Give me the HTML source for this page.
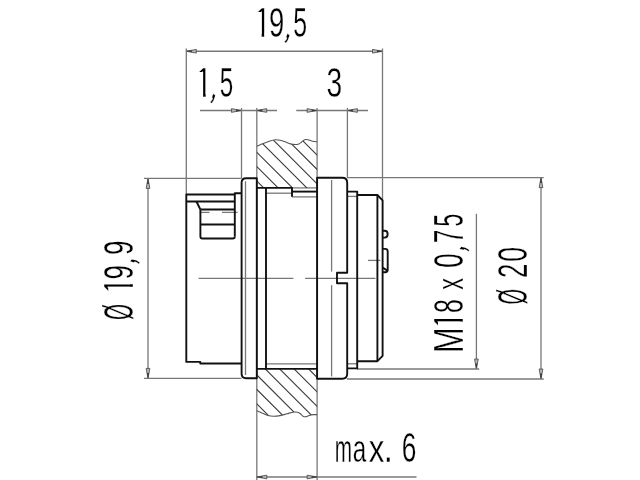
<!DOCTYPE html>
<html><head><meta charset="utf-8"><style>
html,body{margin:0;padding:0;background:#fff;width:640px;height:480px;overflow:hidden}
svg{display:block;will-change:transform}
text{font-family:"Liberation Sans",sans-serif}
</style></head><body>
<svg width="640" height="480" viewBox="0 0 640 480">
<rect width="640" height="480" fill="#fff"/>
<line x1="186.3" y1="51.25" x2="382.5" y2="51.25" stroke="#787878" stroke-width="1.3" fill="none"/>
<path d="M186.3,51.25 L196.30,49.40 L196.30,53.10 Z" fill="#b8b8b8" stroke="#4a4a4a" stroke-width="0.85" stroke-linejoin="round"/>
<path d="M186.3,51.25 L191.80,50.23 L191.80,52.27 Z" fill="#3a3a3a"/>
<path d="M382.5,51.25 L372.50,53.10 L372.50,49.40 Z" fill="#b8b8b8" stroke="#4a4a4a" stroke-width="0.85" stroke-linejoin="round"/>
<path d="M382.5,51.25 L377.00,52.27 L377.00,50.23 Z" fill="#3a3a3a"/>
<line x1="186.3" y1="48.5" x2="186.3" y2="194" stroke="#787878" stroke-width="1.3" fill="none"/>
<line x1="382.5" y1="48.5" x2="382.5" y2="200.4" stroke="#787878" stroke-width="1.3" fill="none"/>
<line x1="200" y1="110.5" x2="277" y2="110.5" stroke="#787878" stroke-width="1.3" fill="none"/>
<path d="M241.5,110.5 L231.50,112.35 L231.50,108.65 Z" fill="#b8b8b8" stroke="#4a4a4a" stroke-width="0.85" stroke-linejoin="round"/>
<path d="M241.5,110.5 L236.00,111.52 L236.00,109.48 Z" fill="#3a3a3a"/>
<path d="M256.7,110.5 L266.70,108.65 L266.70,112.35 Z" fill="#b8b8b8" stroke="#4a4a4a" stroke-width="0.85" stroke-linejoin="round"/>
<path d="M256.7,110.5 L262.20,109.48 L262.20,111.52 Z" fill="#3a3a3a"/>
<line x1="241.5" y1="108" x2="241.5" y2="178.3" stroke="#787878" stroke-width="1.3" fill="none"/>
<line x1="256.8" y1="108" x2="256.8" y2="480" stroke="#787878" stroke-width="1.3" fill="none"/>
<line x1="296.3" y1="110.5" x2="368" y2="110.5" stroke="#787878" stroke-width="1.3" fill="none"/>
<path d="M317.1,110.5 L307.10,112.35 L307.10,108.65 Z" fill="#b8b8b8" stroke="#4a4a4a" stroke-width="0.85" stroke-linejoin="round"/>
<path d="M317.1,110.5 L311.60,111.52 L311.60,109.48 Z" fill="#3a3a3a"/>
<path d="M347.4,110.5 L357.40,108.65 L357.40,112.35 Z" fill="#b8b8b8" stroke="#4a4a4a" stroke-width="0.85" stroke-linejoin="round"/>
<path d="M347.4,110.5 L352.90,109.48 L352.90,111.52 Z" fill="#3a3a3a"/>
<line x1="317.1" y1="108" x2="317.1" y2="480" stroke="#787878" stroke-width="1.3" fill="none"/>
<line x1="347.4" y1="108" x2="347.4" y2="177.6" stroke="#787878" stroke-width="1.3" fill="none"/>
<line x1="148" y1="178.4" x2="148" y2="378.4" stroke="#787878" stroke-width="1.3" fill="none"/>
<path d="M148,178.4 L149.85,188.40 L146.15,188.40 Z" fill="#b8b8b8" stroke="#4a4a4a" stroke-width="0.85" stroke-linejoin="round"/>
<path d="M148,178.4 L149.02,183.90 L146.98,183.90 Z" fill="#3a3a3a"/>
<path d="M148,378.4 L146.15,368.40 L149.85,368.40 Z" fill="#b8b8b8" stroke="#4a4a4a" stroke-width="0.85" stroke-linejoin="round"/>
<path d="M148,378.4 L146.98,372.90 L149.02,372.90 Z" fill="#3a3a3a"/>
<line x1="144" y1="178.4" x2="241.5" y2="178.4" stroke="#787878" stroke-width="1.3" fill="none"/>
<line x1="144" y1="378.4" x2="241.5" y2="378.4" stroke="#787878" stroke-width="1.3" fill="none"/>
<line x1="541" y1="177.6" x2="541" y2="379.0" stroke="#787878" stroke-width="1.3" fill="none"/>
<path d="M541,177.6 L542.85,187.60 L539.15,187.60 Z" fill="#b8b8b8" stroke="#4a4a4a" stroke-width="0.85" stroke-linejoin="round"/>
<path d="M541,177.6 L542.02,183.10 L539.98,183.10 Z" fill="#3a3a3a"/>
<path d="M541,379.0 L539.15,369.00 L542.85,369.00 Z" fill="#b8b8b8" stroke="#4a4a4a" stroke-width="0.85" stroke-linejoin="round"/>
<path d="M541,379.0 L539.98,373.50 L542.02,373.50 Z" fill="#3a3a3a"/>
<line x1="347" y1="177.6" x2="543.7" y2="177.6" stroke="#787878" stroke-width="1.3" fill="none"/>
<line x1="347" y1="379.0" x2="543.7" y2="379.0" stroke="#787878" stroke-width="1.3" fill="none"/>
<line x1="476.4" y1="213.8" x2="476.4" y2="369.0" stroke="#787878" stroke-width="1.3" fill="none"/>
<path d="M476.4,369.0 L474.55,359.00 L478.25,359.00 Z" fill="#b8b8b8" stroke="#4a4a4a" stroke-width="0.85" stroke-linejoin="round"/>
<path d="M476.4,369.0 L475.38,363.50 L477.42,363.50 Z" fill="#3a3a3a"/>
<line x1="357" y1="369.0" x2="479.2" y2="369.0" stroke="#787878" stroke-width="1.3" fill="none"/>
<line x1="256.8" y1="477" x2="416.5" y2="477" stroke="#787878" stroke-width="1.3" fill="none"/>
<path d="M256.8,477 L266.80,475.15 L266.80,478.85 Z" fill="#b8b8b8" stroke="#4a4a4a" stroke-width="0.85" stroke-linejoin="round"/>
<path d="M256.8,477 L262.30,475.98 L262.30,478.02 Z" fill="#3a3a3a"/>
<path d="M317.1,477 L307.10,478.85 L307.10,475.15 Z" fill="#b8b8b8" stroke="#4a4a4a" stroke-width="0.85" stroke-linejoin="round"/>
<path d="M317.1,477 L311.60,478.02 L311.60,475.98 Z" fill="#3a3a3a"/>
<line x1="198.6" y1="278.4" x2="293.4" y2="278.4" stroke="#787878" stroke-width="1.3" fill="none"/>
<line x1="305.1" y1="278.4" x2="375.5" y2="278.4" stroke="#787878" stroke-width="1.3" fill="none"/>
<line x1="368" y1="260.4" x2="380.4" y2="260.4" stroke="#787878" stroke-width="1.3" fill="none"/>
<line x1="245.5" y1="181.3" x2="245.5" y2="375" stroke="#787878" stroke-width="1.3" fill="none"/>
<line x1="331.6" y1="180" x2="331.6" y2="271.6" stroke="#787878" stroke-width="1.3" fill="none"/>
<line x1="331.6" y1="285.1" x2="331.6" y2="376.5" stroke="#787878" stroke-width="1.3" fill="none"/>
<line x1="266" y1="193.2" x2="292" y2="193.2" stroke="#787878" stroke-width="1.3" fill="none"/>
<line x1="292" y1="196.9" x2="317.1" y2="196.9" stroke="#787878" stroke-width="1.3" fill="none"/>
<line x1="292" y1="187.9" x2="317.1" y2="187.9" stroke="#787878" stroke-width="1.3" fill="none"/>
<line x1="347.2" y1="196.4" x2="357.2" y2="196.4" stroke="#787878" stroke-width="1.3" fill="none"/>
<line x1="266" y1="363.8" x2="317.1" y2="363.8" stroke="#787878" stroke-width="1.3" fill="none"/>
<line x1="347.2" y1="363.8" x2="357.2" y2="363.8" stroke="#787878" stroke-width="1.3" fill="none"/>
<line x1="199.7" y1="212.4" x2="209.5" y2="212.4" stroke="#787878" stroke-width="1.3" fill="none"/>
<line x1="222" y1="212.4" x2="237.6" y2="212.4" stroke="#787878" stroke-width="1.3" fill="none"/>
<defs><clipPath id="ct"><path d="M256.8,146.2 C257.87,145.75 261.00,144.37 263.2,143.5 C265.40,142.63 267.95,141.62 270,141 C272.05,140.38 273.83,139.93 275.5,139.8 C277.17,139.67 278.42,139.88 280,140.2 C281.58,140.52 283.25,141.08 285,141.7 C286.75,142.32 288.75,143.43 290.5,143.9 C292.25,144.37 294.12,144.50 295.5,144.5 C296.88,144.50 297.80,144.28 298.8,143.9 C299.80,143.52 300.67,142.82 301.5,142.2 C302.33,141.58 303.08,140.65 303.8,140.2 C304.52,139.75 305.07,139.57 305.8,139.5 C306.53,139.43 307.33,139.58 308.2,139.8 C309.07,140.02 310.03,140.52 311,140.8 C311.97,141.08 312.98,141.35 314,141.5 C315.02,141.65 316.58,141.67 317.1,141.7 L317.1,187.9 L256.8,187.9 Z"/></clipPath>
<clipPath id="cb"><path d="M256.8,410.8 C257.75,411.20 260.63,412.42 262.5,413.2 C264.37,413.98 266.17,415.00 268,415.5 C269.83,416.00 271.50,416.18 273.5,416.2 C275.50,416.22 277.75,416.00 280,415.6 C282.25,415.20 284.83,414.37 287,413.8 C289.17,413.23 291.25,412.45 293,412.2 C294.75,411.95 296.25,412.03 297.5,412.3 C298.75,412.57 299.58,413.15 300.5,413.8 C301.42,414.45 302.17,415.70 303,416.2 C303.83,416.70 304.67,416.82 305.5,416.8 C306.33,416.78 307.08,416.42 308,416.1 C308.92,415.78 310.00,415.15 311,414.9 C312.00,414.65 312.98,414.65 314,414.6 C315.02,414.55 316.58,414.60 317.1,414.6 L317.1,368.9 L256.8,368.9 Z"/></clipPath></defs>
<path clip-path="url(#ct)" d="M175.84,100 L295.84000000000003,220 M190.2,100 L310.2,220 M204.56,100 L324.56,220 M218.92000000000002,100 L338.92,220 M233.28,100 L353.28,220 M247.64,100 L367.64,220 M262.0,100 L382.0,220 M276.36,100 L396.36,220" stroke="#3a3a3a" stroke-width="1.1" fill="none"/>
<path clip-path="url(#cb)" d="M188.5,350 L278.5,440 M202.95000000000002,350 L292.95000000000005,440 M217.4,350 L307.4,440 M231.85000000000002,350 L321.85,440 M246.3,350 L336.3,440 M260.75,350 L350.75,440 M275.2,350 L365.2,440 M289.65,350 L379.65,440 M304.1,350 L394.1,440" stroke="#3a3a3a" stroke-width="1.1" fill="none"/>
<path d="M256.8,146.2 C257.87,145.75 261.00,144.37 263.2,143.5 C265.40,142.63 267.95,141.62 270,141 C272.05,140.38 273.83,139.93 275.5,139.8 C277.17,139.67 278.42,139.88 280,140.2 C281.58,140.52 283.25,141.08 285,141.7 C286.75,142.32 288.75,143.43 290.5,143.9 C292.25,144.37 294.12,144.50 295.5,144.5 C296.88,144.50 297.80,144.28 298.8,143.9 C299.80,143.52 300.67,142.82 301.5,142.2 C302.33,141.58 303.08,140.65 303.8,140.2 C304.52,139.75 305.07,139.57 305.8,139.5 C306.53,139.43 307.33,139.58 308.2,139.8 C309.07,140.02 310.03,140.52 311,140.8 C311.97,141.08 312.98,141.35 314,141.5 C315.02,141.65 316.58,141.67 317.1,141.7" stroke="#555" stroke-width="1.1" fill="none"/>
<path d="M256.8,410.8 C257.75,411.20 260.63,412.42 262.5,413.2 C264.37,413.98 266.17,415.00 268,415.5 C269.83,416.00 271.50,416.18 273.5,416.2 C275.50,416.22 277.75,416.00 280,415.6 C282.25,415.20 284.83,414.37 287,413.8 C289.17,413.23 291.25,412.45 293,412.2 C294.75,411.95 296.25,412.03 297.5,412.3 C298.75,412.57 299.58,413.15 300.5,413.8 C301.42,414.45 302.17,415.70 303,416.2 C303.83,416.70 304.67,416.82 305.5,416.8 C306.33,416.78 307.08,416.42 308,416.1 C308.92,415.78 310.00,415.15 311,414.9 C312.00,414.65 312.98,414.65 314,414.6 C315.02,414.55 316.58,414.60 317.1,414.6" stroke="#555" stroke-width="1.1" fill="none"/>
<path d="M234.7,194.5 H186.3 V361.9 H200.3 V363.5 H241.6" stroke="#111" stroke-width="1.9" fill="none" stroke-linejoin="round" stroke-linecap="butt"/>
<path d="M234.8,236.5 V193.2 H241.6" stroke="#111" stroke-width="1.9" fill="none" stroke-linejoin="round" stroke-linecap="butt"/>
<path d="M186.3,201.55 H234.7" stroke="#111" stroke-width="1.9" fill="none" stroke-linejoin="round" stroke-linecap="butt"/>
<path d="M196.4,201.55 L200.4,209.5" stroke="#111" stroke-width="1.9" fill="none" stroke-linejoin="round" stroke-linecap="butt"/>
<path d="M200.4,209.5 V236.5 Q200.4,238.5 202.4,238.5 H232.7 Q234.8,238.5 234.8,236.5" stroke="#111" stroke-width="1.9" fill="none" stroke-linejoin="round" stroke-linecap="butt"/>
<path d="M200.4,209.5 H234.7" stroke="#111" stroke-width="1.9" fill="none" stroke-linejoin="round" stroke-linecap="butt"/>
<path d="M200.4,224.5 H234.7" stroke="#111" stroke-width="1.9" fill="none" stroke-linejoin="round" stroke-linecap="butt"/>
<path d="M256.8,178.3 H246.1 Q241.6,178.3 241.6,182.8 V373.7 Q241.6,378.2 246.1,378.2 H256.8 Z" stroke="#111" stroke-width="1.9" fill="none" stroke-linejoin="round" stroke-linecap="butt"/>
<path d="M256.8,187.9 H292 V196.8" stroke="#111" stroke-width="1.9" fill="none" stroke-linejoin="round" stroke-linecap="butt"/>
<path d="M292,191.6 H317.1" stroke="#111" stroke-width="1.9" fill="none" stroke-linejoin="round" stroke-linecap="butt"/>
<path d="M266,187.9 V368.9" stroke="#111" stroke-width="1.9" fill="none" stroke-linejoin="round" stroke-linecap="butt"/>
<path d="M256.8,368.9 H317.1" stroke="#111" stroke-width="1.9" fill="none" stroke-linejoin="round" stroke-linecap="butt"/>
<path d="M317.1,177.8 H342.2 Q347.2,177.8 347.2,182.8 V272.8 H337 V283.3 H347.2 V373.7 Q347.2,378.7 342.2,378.7 H317.1 Z" stroke="#111" stroke-width="1.9" fill="none" stroke-linejoin="round" stroke-linecap="butt"/>
<path d="M347.2,191.6 H357.2 V368.4 H347.2" stroke="#111" stroke-width="1.9" fill="none" stroke-linejoin="round" stroke-linecap="butt"/>
<path d="M357.2,195 H377.4 L382.6,200.4 V355.9 L377.4,361.2 H357.2" stroke="#111" stroke-width="1.9" fill="none" stroke-linejoin="round" stroke-linecap="butt"/>
<path d="M377.4,195 V361.2" stroke="#111" stroke-width="1.9" fill="none" stroke-linejoin="round" stroke-linecap="butt"/>
<path d="M382.6,230.7 H384.6 Q387.6,230.7 387.6,233.7 V234.6 Q387.6,237.6 384.6,237.6 H382.6" stroke="#111" stroke-width="1.9" fill="none" stroke-linejoin="round" stroke-linecap="butt"/>
<path d="M382.6,248.9 H385.2 Q387.7,248.9 387.7,251.4 V269.8 Q387.7,272.3 385.2,272.3 H382.6" stroke="#111" stroke-width="1.9" fill="none" stroke-linejoin="round" stroke-linecap="butt"/>
<path d="M382.6,267.6 L387.4,270.6" stroke="#111" stroke-width="1.9" fill="none" stroke-linejoin="round" stroke-linecap="butt"/>
<defs><clipPath id="c1_1"><path clip-rule="evenodd" d="M-2000,-2000 H2000 V2000 H-2000 Z M255.30,-24.8 H261.69 V2 H255.30 Z M264.16,-3.9 H270.30 V2 H264.16 Z"/></clipPath></defs>
<text transform="translate(0,36.9)" clip-path="url(#c1_1)" font-family="Liberation Sans" font-size="42" fill="#000" stroke="#fff" stroke-width="0.35"><tspan x="253.88" y="0" textLength="16.82" lengthAdjust="spacingAndGlyphs">1</tspan><tspan x="268.93" y="0" textLength="15.24" lengthAdjust="spacingAndGlyphs">9</tspan><tspan x="283.95" y="-1.59" rotate="30" textLength="7.24" lengthAdjust="spacingAndGlyphs">,</tspan><tspan x="293.20" y="0" textLength="13.85" lengthAdjust="spacingAndGlyphs">5</tspan></text>
<defs><clipPath id="c1_2"><path clip-rule="evenodd" d="M-2000,-2000 H2000 V2000 H-2000 Z M196.75,-24.8 H203.14 V2 H196.75 Z M205.61,-3.9 H211.75 V2 H205.61 Z"/></clipPath></defs>
<text transform="translate(0,96.8)" clip-path="url(#c1_2)" font-family="Liberation Sans" font-size="42" fill="#000" stroke="#fff" stroke-width="0.35"><tspan x="195.33" y="0" textLength="16.82" lengthAdjust="spacingAndGlyphs">1</tspan><tspan x="209.65" y="-1.39" rotate="30" textLength="7.24" lengthAdjust="spacingAndGlyphs">,</tspan><tspan x="219.73" y="0" textLength="13.49" lengthAdjust="spacingAndGlyphs">5</tspan></text>
<text transform="translate(0,97.0)" font-family="Liberation Sans" font-size="42" fill="#000" stroke="#fff" stroke-width="0.35"><tspan x="326.62" y="0" textLength="15.68" lengthAdjust="spacingAndGlyphs">3</tspan></text>
<text transform="translate(0,462.4)" font-family="Liberation Sans" font-size="42" fill="#000" stroke="#fff" stroke-width="0.35"><tspan x="334.75" y="0" textLength="17.26" lengthAdjust="spacingAndGlyphs" font-size="39">m</tspan><tspan x="352.63" y="0" textLength="13.48" lengthAdjust="spacingAndGlyphs" font-size="39">a</tspan><tspan x="368.69" y="0" textLength="15.62" lengthAdjust="spacingAndGlyphs" font-size="39">x</tspan><tspan x="383.83" y="0" textLength="9.17" lengthAdjust="spacingAndGlyphs">.</tspan> <tspan x="401.68" y="0" textLength="14.63" lengthAdjust="spacingAndGlyphs">6</tspan></text>
<defs><clipPath id="c1_3"><path clip-rule="evenodd" d="M-2000,-2000 H2000 V2000 H-2000 Z M-293.20,-24.8 H-286.81 V2 H-293.20 Z M-284.34,-3.9 H-278.20 V2 H-284.34 Z"/></clipPath></defs>
<text transform="translate(133.0,0) rotate(-90)" clip-path="url(#c1_3)" font-family="Liberation Sans" font-size="42" fill="#000" stroke="#fff" stroke-width="0.35"><tspan x="-320.02" y="0" textLength="16.00" lengthAdjust="spacingAndGlyphs">Ø</tspan> <tspan x="-294.62" y="0" textLength="16.82" lengthAdjust="spacingAndGlyphs">1</tspan><tspan x="-279.60" y="0" textLength="14.51" lengthAdjust="spacingAndGlyphs">9</tspan><tspan x="-264.66" y="-0.57" rotate="24" textLength="7.24" lengthAdjust="spacingAndGlyphs">,</tspan><tspan x="-255.10" y="0" textLength="14.51" lengthAdjust="spacingAndGlyphs">9</tspan></text>
<defs><clipPath id="c1_4"><path clip-rule="evenodd" d="M-2000,-2000 H2000 V2000 H-2000 Z M-327.80,-24.8 H-321.41 V2 H-327.80 Z M-318.94,-3.9 H-312.80 V2 H-318.94 Z"/></clipPath></defs>
<text transform="translate(462.8,0) rotate(-90)" clip-path="url(#c1_4)" font-family="Liberation Sans" font-size="42" fill="#000" stroke="#fff" stroke-width="0.35"><tspan x="-352.96" y="0" textLength="25.62" lengthAdjust="spacingAndGlyphs">M</tspan><tspan x="-329.22" y="0" textLength="16.82" lengthAdjust="spacingAndGlyphs">1</tspan><tspan x="-313.00" y="0" textLength="13.85" lengthAdjust="spacingAndGlyphs">8</tspan> <tspan x="-289.64" y="0" textLength="11.77" lengthAdjust="spacingAndGlyphs" font-size="37.5">x</tspan> <tspan x="-267.73" y="0" textLength="14.37" lengthAdjust="spacingAndGlyphs">0</tspan><tspan x="-252.36" y="-0.77" rotate="24" textLength="7.24" lengthAdjust="spacingAndGlyphs">,</tspan><tspan x="-243.10" y="0" textLength="13.30" lengthAdjust="spacingAndGlyphs">7</tspan><tspan x="-226.84" y="0" textLength="13.02" lengthAdjust="spacingAndGlyphs">5</tspan></text>
<text transform="translate(527.0,0) rotate(-90)" font-family="Liberation Sans" font-size="42" fill="#000" stroke="#fff" stroke-width="0.35"><tspan x="-304.41" y="0" textLength="15.67" lengthAdjust="spacingAndGlyphs">Ø</tspan> <tspan x="-278.09" y="0" textLength="14.39" lengthAdjust="spacingAndGlyphs">2</tspan><tspan x="-261.87" y="0" textLength="14.83" lengthAdjust="spacingAndGlyphs">0</tspan></text>
</svg>
</body></html>
